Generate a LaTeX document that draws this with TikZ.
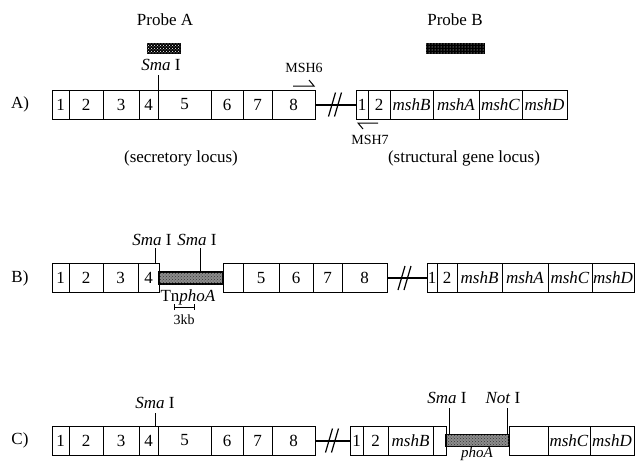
\documentclass[tikz,border=0pt]{standalone}
\usepackage{fontspec}
\setmainfont{Liberation Serif}
\usetikzlibrary{arrows.meta, patterns, calc}

\begin{document}
\begin{tikzpicture}[
  x=1pt, y=-1pt,
  font=\fontsize{17}{20}\selectfont,
  seg/.style={draw, line width=0.9pt, minimum height=29pt, inner sep=0pt, outer sep=0pt},
  ins/.style={draw, line width=1.2pt, fill=black!45, minimum height=12pt, inner sep=0pt, outer sep=0pt,
              postaction={pattern=crosshatch dots, pattern color=black!80}},
  probe/.style={draw, line width=0.8pt, fill=black, minimum height=10pt, inner sep=0pt},
  link/.style={line width=2pt},
  tick/.style={line width=1pt},
  primer/.style={line width=1pt, line join=miter},
  small/.style={font=\fontsize{14}{16}\selectfont},
  brkmark/.pic={\draw[line width=1.2pt] (-7,12) -- (0,-12) (-1,12) -- (6,-12);},
]
\useasboundingbox (0,0) rectangle (635,461);

% probes
\node (prA) at (165,20) {Probe A};
\node (prB) at (455,20) {Probe B};
\node[probe, minimum width=33pt, postaction={pattern=crosshatch dots, pattern color=white}] (probeA) at (163.5,48) {};
\node[probe, minimum width=58pt, postaction={pattern=dots, pattern color=white}] (probeB) at (455,48) {};

% row A
\node (rowA) at (20,104.5) {A)};
\foreach \l/\r/\t [count=\i] in {52/69/1, 69/103/2, 103/139/3, 139/158/4, 158/211/5, 211/243/6, 243/272/7, 272/315/8}
  \node[seg, minimum width={(\r-\l)*1pt}, anchor=west] (a\i) at (\l,104.5) {\t};
\foreach \l/\r/\t [count=\i] in {356/368/1, 368/390/2, 390/433/\textit{mshB}, 433/479/\textit{mshA}, 479/522/\textit{mshC}, 522/567/\textit{mshD}}
  \node[seg, minimum width={(\r-\l)*1pt}, anchor=west] (ar\i) at (\l,104.5) {\t};
\draw[link] (a8) -- coordinate[midway] (brkA) (ar1);
\pic at (brkA) {brkmark};
\node (smaA) at (161,65) {\textit{Sma} I};
\draw[tick] (a4.north east) -- ++(0,-15);
\node[small] (msh6) at (304,68) {MSH6};
\coordinate (p6a) at (293,86);
\coordinate (p6b) at (314,86);
\draw[primer] (p6a) -- (p6b) -- ++(-5,-6);
\coordinate (p7a) at (378,123);
\coordinate (p7b) at (358,123);
\draw[primer] (p7a) -- (p7b) -- ++(5,6);
\node[small] (msh7) at (370,140) {MSH7};
\node (secA) at (181,158) {(secretory locus)};
\node (strA) at (464,158) {(structural gene locus)};

% row B
\node (rowB) at (20,278) {B)};
\foreach \l/\r/\t [count=\i] in {52/69/1, 69/103/2, 103/138/3, 138/159/4}
  \node[seg, minimum width={(\r-\l)*1pt}, anchor=west] (b\i) at (\l,278) {\t};
\node[ins, minimum width=64pt, anchor=west] (tn) at (159,278) {};
\foreach \l/\r/\t [count=\i from 5] in {223/243/{}, 243/279/5, 279/313/6, 313/342/7, 342/387/8}
  \node[seg, minimum width={(\r-\l)*1pt}, anchor=west] (b\i) at (\l,278) {\t};
\foreach \l/\r/\t [count=\i] in {427/437/1, 437/457/2, 457/502/\textit{mshB}, 502/548/\textit{mshA}, 548/592/\textit{mshC}, 592/634/\textit{mshD}}
  \node[seg, minimum width={(\r-\l)*1pt}, anchor=west] (br\i) at (\l,278) {\t};
\draw[link] (b9) -- coordinate[pos=0.45] (brkB) (br1);
\pic at (brkB) {brkmark};
\node (smaBa) at (152,240) {\textit{Sma} I};
\node (smaBb) at (197,240) {\textit{Sma} I};
\draw[tick] ($(b4.north east)+(-4,0)$) -- ++(0,-16);
\draw[tick] ($(tn.north)+(9,0)$) -- ++(0,-24);
\node (tnpho) at (188,297) {Tn\textit{phoA}};
\coordinate (kbL) at (174,307);
\coordinate (kbR) at (195,307);
\draw[line width=0.8pt, {Bar[width=6pt]}-{Bar[width=6pt]}] (kbL) -- (kbR);
\node[small] (kb) at (184,320) {3kb};

% row C
\node (rowC) at (20,440.5) {C)};
\foreach \l/\r/\t [count=\i] in {52/69/1, 69/103/2, 103/139/3, 139/158/4, 158/211/5, 211/243/6, 243/272/7, 272/315/8}
  \node[seg, minimum width={(\r-\l)*1pt}, anchor=west] (c\i) at (\l,440.5) {\t};
\foreach \l/\r/\t [count=\i] in {350/363/1, 363/388/2, 388/433/\textit{mshB}, 433/446/{}}
  \node[seg, minimum width={(\r-\l)*1pt}, anchor=west] (cr\i) at (\l,440.5) {\t};
\node[ins, minimum width=63pt, anchor=west] (pho) at (446,440.5) {};
\foreach \l/\r/\t [count=\i from 5] in {509/548/{}, 548/590/\textit{mshC}, 590/634/\textit{mshD}}
  \node[seg, minimum width={(\r-\l)*1pt}, anchor=west] (cr\i) at (\l,440.5) {\t};
\draw[link] (c8) -- coordinate[midway] (brkC) (cr1);
\pic at (brkC) {brkmark};
\node (smaC) at (155,403) {\textit{Sma} I};
\draw[tick] ($(c4.north east)+(-3,0)$) -- ++(0,-13);
\node (smaCb) at (447,398) {\textit{Sma} I};
\node (notC) at (503,398) {\textit{Not} I};
\draw[tick] ($(pho.north west)+(3,0)$) -- ++(0,-27);
\draw[tick] ($(pho.north east)+(-2,0)$) -- ++(0,-27);
\node[font=\fontsize{15}{17}\selectfont, inner sep=0pt] (phoC) at (477,453.5) {\textit{phoA}};
\end{tikzpicture}
\end{document}
